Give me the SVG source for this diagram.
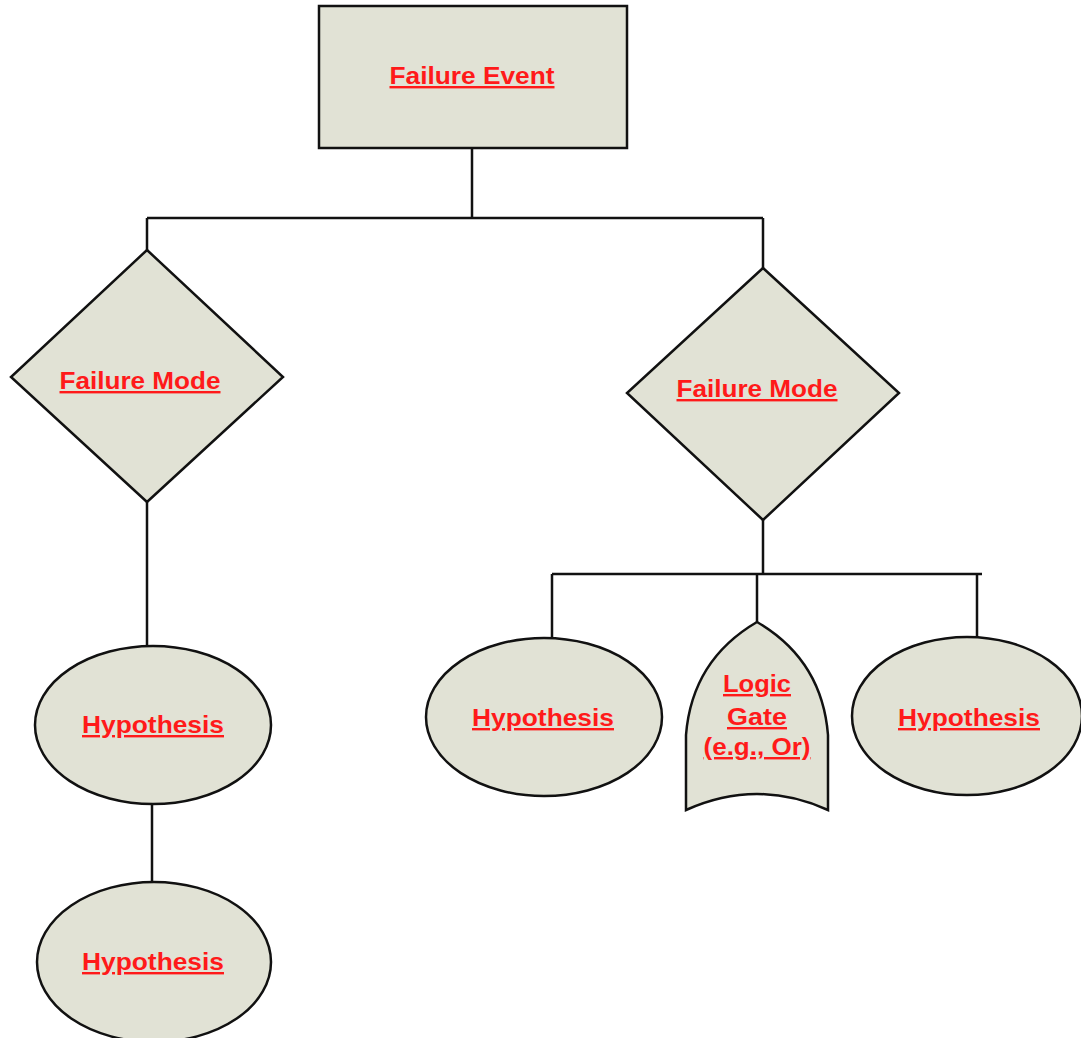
<svg xmlns="http://www.w3.org/2000/svg" width="1081" height="1038" viewBox="0 0 1081 1038">
<style>
.n{fill:#e1e2d5;stroke:#111;stroke-width:2.5}
.c{fill:none;stroke:#111;stroke-width:2.5}
.t{font-family:"Liberation Sans",Arial,sans-serif;font-weight:bold;font-size:24px;fill:#ff1a1a;text-anchor:middle;text-decoration:underline}
</style>
<rect width="1081" height="1038" fill="#fff"/>
<g id="connectors">
<path class="c" d="M472,148 V218 M147,218 H763 M147,218 V250 M763,218 V268"/>
<path class="c" d="M147,502 V646 M152,804 V883"/>
<path class="c" d="M763,520 V574 M552,574 H982 M552,574 V638 M757,574 V622 M977,574 V638"/>
</g>
<g id="failure-event">
<rect class="n" x="319" y="6" width="308" height="142"/>
<text class="t" x="472" y="84" textLength="165" lengthAdjust="spacingAndGlyphs">Failure Event</text>
</g>
<g id="failure-mode-left">
<polygon class="n" points="147,250 283,377 147,502 11,377"/>
<text class="t" x="140" y="389" textLength="161" lengthAdjust="spacingAndGlyphs">Failure Mode</text>
</g>
<g id="failure-mode-right">
<polygon class="n" points="763,268 899,393 763,520 627,393"/>
<text class="t" x="757" y="397" textLength="161" lengthAdjust="spacingAndGlyphs">Failure Mode</text>
</g>
<g id="hypothesis-1">
<ellipse class="n" cx="153" cy="725" rx="118" ry="79"/>
<text class="t" x="153" y="733" textLength="142" lengthAdjust="spacingAndGlyphs">Hypothesis</text>
</g>
<g id="hypothesis-2">
<ellipse class="n" cx="154" cy="962" rx="117" ry="80"/>
<text class="t" x="153" y="970" textLength="142" lengthAdjust="spacingAndGlyphs">Hypothesis</text>
</g>
<g id="hypothesis-3">
<ellipse class="n" cx="544" cy="717" rx="118" ry="79"/>
<text class="t" x="543" y="726" textLength="142" lengthAdjust="spacingAndGlyphs">Hypothesis</text>
</g>
<g id="logic-gate">
<path class="n" d="M757,622 Q692,660 686,735 L686,810 Q757,778 828,810 L828,735 Q822,660 757,622 Z"/>
<text class="t" x="757" y="692" textLength="68" lengthAdjust="spacingAndGlyphs">Logic</text>
<text class="t" x="757" y="725" textLength="60" lengthAdjust="spacingAndGlyphs">Gate</text>
<text class="t" x="757" y="755" textLength="107" lengthAdjust="spacingAndGlyphs">(e.g., Or)</text>
</g>
<g id="hypothesis-4">
<ellipse class="n" cx="967" cy="716" rx="115" ry="79"/>
<text class="t" x="969" y="726" textLength="142" lengthAdjust="spacingAndGlyphs">Hypothesis</text>
</g>
</svg>
